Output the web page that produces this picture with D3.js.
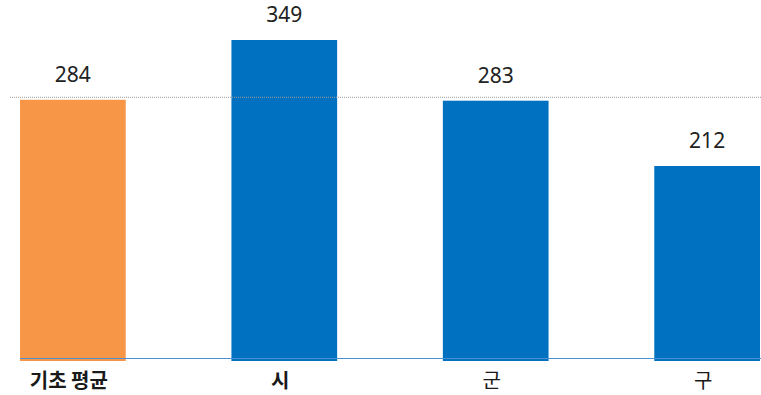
<!DOCTYPE html>
<html>
<head>
<meta charset="utf-8">
<script src="https://cdn.jsdelivr.net/npm/d3@7"></script>
<style>
  html, body { margin: 0; padding: 0; background: #fff; }
  svg { display: block; }
</style>
</head>
<body>
<svg id="chart" width="761" height="395"></svg>
<script>
// Data
const categories = ["기초 평균", "시", "군", "구"];
const values = [284, 349, 283, 212];
const barColors = ["#F79646", "#0070C0", "#0070C0", "#0070C0"];
const labelWeights = [600, 600, 400, 400];
const averageValue = 284;

const svg = d3.select("#chart");

const x = d3.scaleBand()
  .domain(categories)
  .range([20, 760])
  .paddingInner(0.5)
  .paddingOuter(0);

const y = d3.scaleLinear()
  .domain([0, 349])
  .range([361, 40]);

// lines sit slightly above the bar edges
const lineLift = 2.5;

// bars
svg.append("g")
  .selectAll("rect")
  .data(values)
  .join("rect")
  .attr("x", (d, i) => x(categories[i]))
  .attr("y", d => y(d))
  .attr("width", x.bandwidth())
  .attr("height", d => y(0) - y(d))
  .attr("fill", (d, i) => barColors[i]);

// baseline
svg.append("line")
  .attr("x1", x.range()[0])
  .attr("x2", 761)
  .attr("y1", y(0) - lineLift)
  .attr("y2", y(0) - lineLift)
  .attr("stroke", "#4A90D2")
  .attr("stroke-width", 1.2);

// average reference line
svg.append("line")
  .attr("x1", 10)
  .attr("x2", 761)
  .attr("y1", y(averageValue) - lineLift)
  .attr("y2", y(averageValue) - lineLift)
  .attr("stroke", "#999")
  .attr("stroke-width", 1)
  .attr("stroke-dasharray", "1,1");

// value labels
svg.append("g")
  .selectAll("text")
  .data(values)
  .join("text")
  .attr("x", (d, i) => x(categories[i]) + x.bandwidth() / 2)
  .attr("y", d => y(d) - 18)
  .attr("text-anchor", "middle")
  .attr("font-family", "'Noto Sans', 'Open Sans', sans-serif")
  .attr("font-size", 21)
  .attr("fill", "#222")
  .text(d => d);

// category labels
svg.append("g")
  .selectAll("text")
  .data(categories)
  .join("text")
  .attr("x", d => x(d) + x.bandwidth() / 2)
  .attr("dx", -4)
  .attr("y", 388)
  .attr("text-anchor", "middle")
  .attr("font-family", "'Noto Sans CJK KR', sans-serif")
  .attr("font-size", 20)
  .attr("font-weight", (d, i) => labelWeights[i])
  .attr("fill", "#1a1a1a")
  .text(d => d);
</script>
</body>
</html>
